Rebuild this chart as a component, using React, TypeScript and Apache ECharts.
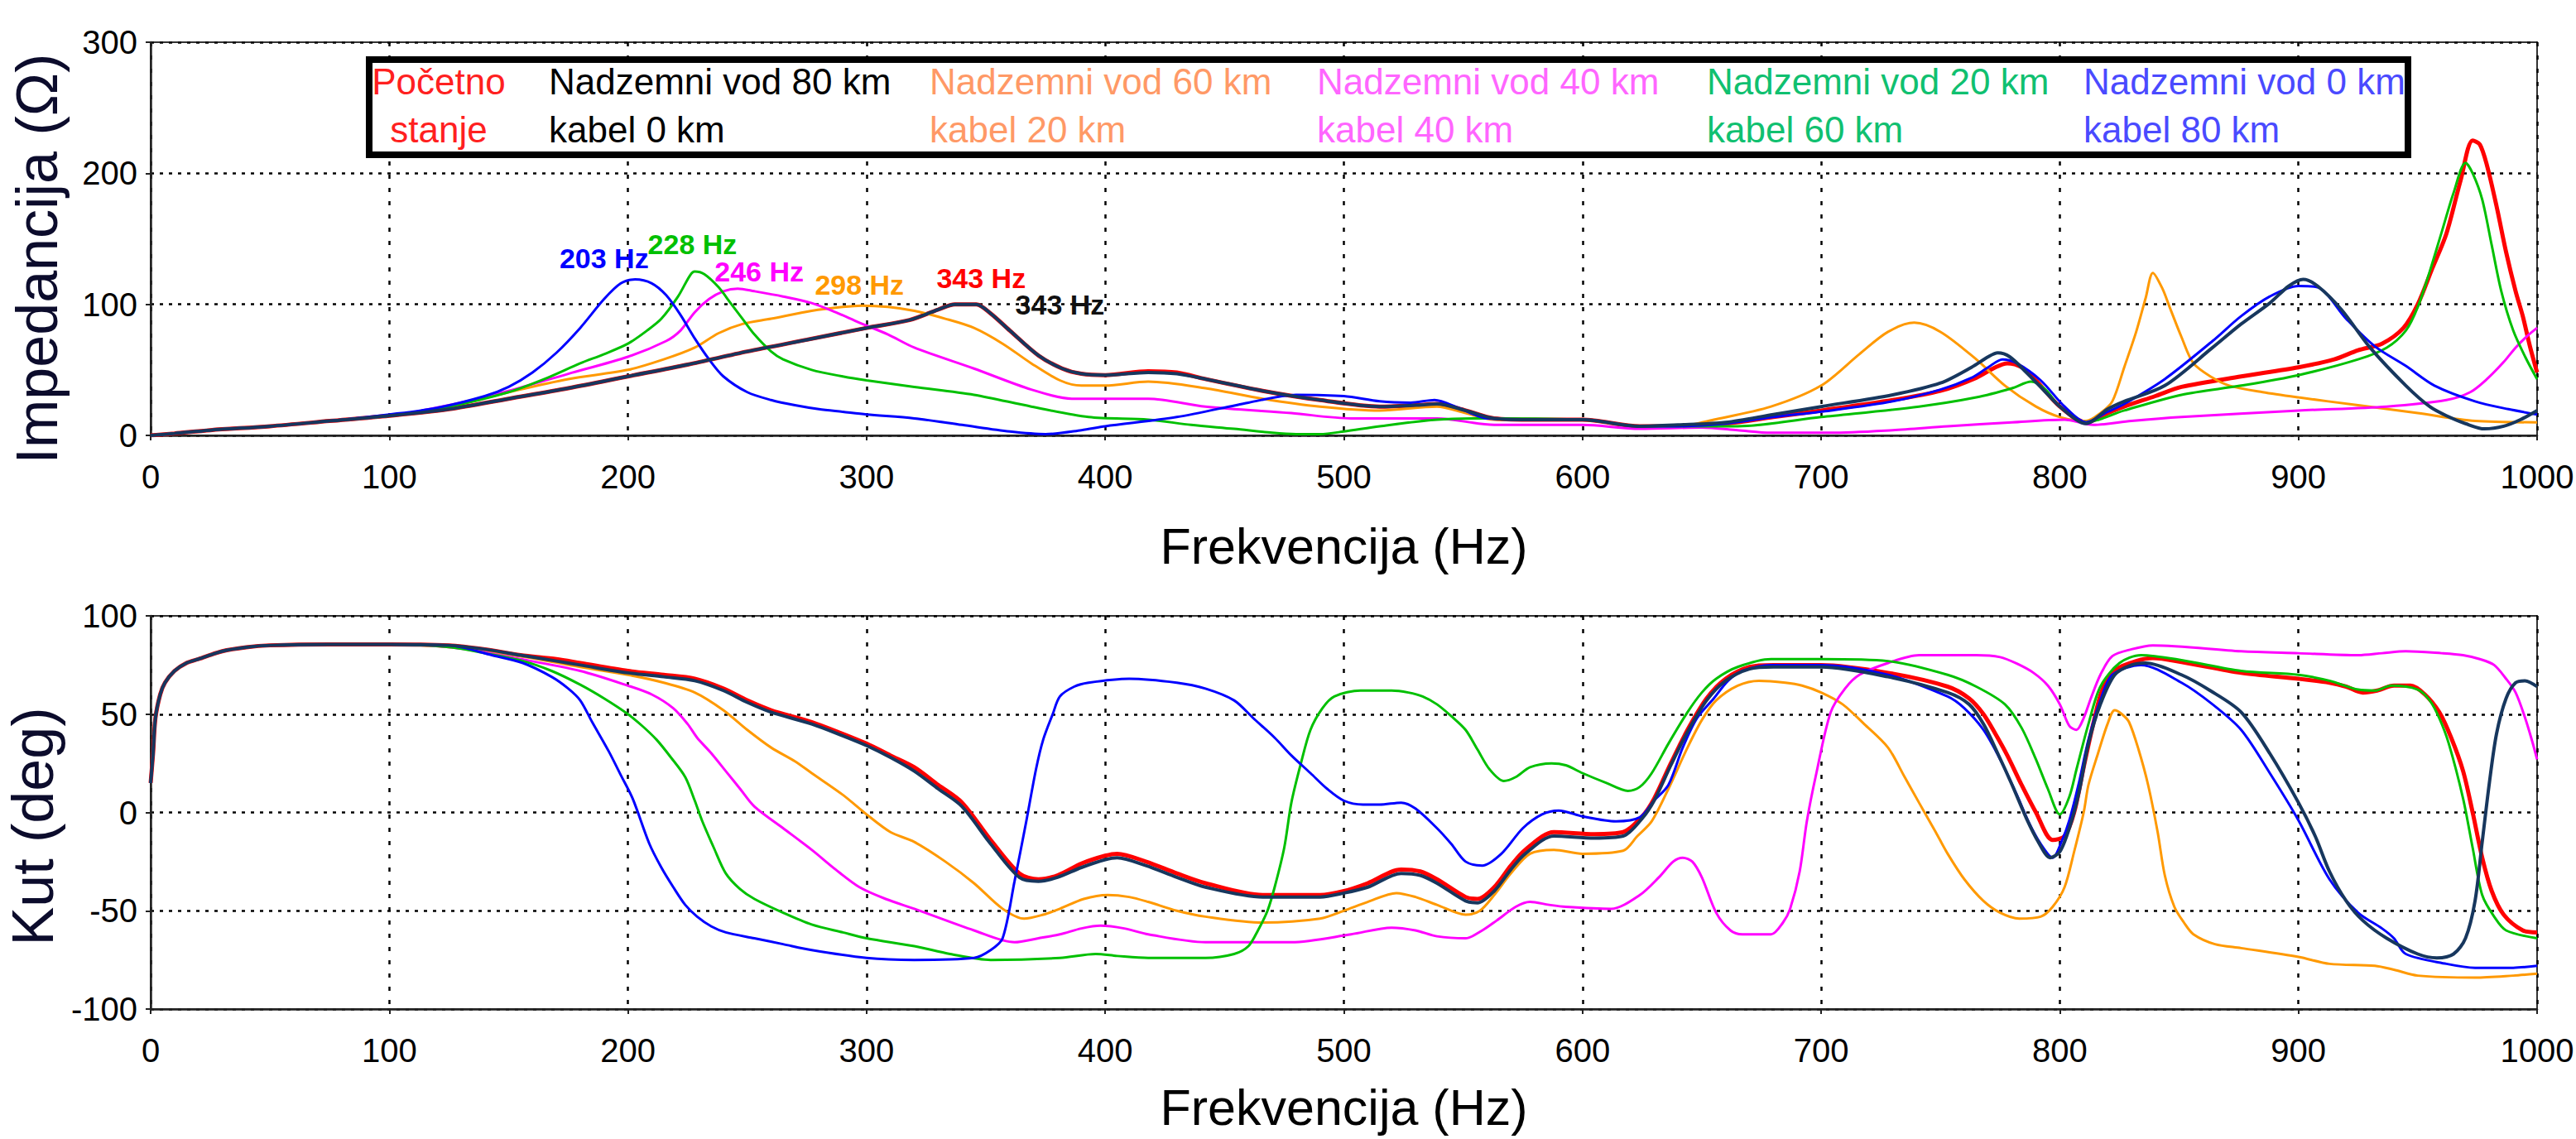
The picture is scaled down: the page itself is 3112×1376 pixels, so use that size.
import React, { useEffect, useRef } from "react";
import * as echarts from "echarts";

// ---------- DATA: impedance magnitude (Ω) vs frequency (Hz) ----------
const zRed: [number, number][] = [[0,0],[10,1.5],[25,4],[50,7],[75,11],[100,15],[125,20],[150,28],[175,36],[200,45],[225,54],[250,64],[275,73],[300,82],[318,88],[330,96],[337,100],[346,100],[352,93],[360,80],[372,61],[382,51],[390,47],[400,46],[418,49],[430,48],[442,43],[466,34],[490,27],[515,22],[530,23],[539,24],[551,19],[563,13],[580,12],[600,12],[624,7],[640,7],[660,9],[680,14],[700,19],[730,27],[750,34],[765,44],[773,52],[778,55],[784,52],[790,42],[800,22],[811,10],[820,17],[827,22],[840,30],[851,37],[876,45],[900,52],[915,58],[925,65],[935,70],[944,82],[950,100],[956,127],[962,154],[968,195],[973,225],[976,222],[979,206],[983,175],[987,140],[991,110],[994,91],[997,68],[1000,48]];
const zNavy: [number, number][] = [[0,0],[10,1.5],[25,4],[50,7],[75,11],[100,15],[125,20],[150,28],[175,36],[200,45],[225,54],[250,64],[275,73],[300,82],[318,88],[330,96],[337,100],[346,100],[352,93],[360,80],[372,61],[382,51],[390,47],[400,46],[418,48],[430,47],[442,43],[466,34],[490,27],[515,22],[530,23],[539,24],[551,19],[563,13],[580,12],[600,12],[624,7],[640,8],[660,10],[680,16],[700,22],[730,31],[750,40],[763,52],[770,60],[774,63],[779,60],[786,48],[793,35],[800,22],[811,9],[820,20],[827,26],[844,38],[864,67],[876,85],[888,101],[896,114],[902,119],[908,114],[918,96],[930,67],[945,38],[955,22],[962,15],[970,9],[978,5],[986,7],[993,12],[1000,19]];
const zOrange: [number, number][] = [[0,0],[10,1.5],[25,4],[50,7],[75,11],[100,15],[125,22],[150,33],[175,43],[200,50],[215,58],[228,67],[238,78],[248,85],[260,89],[277,95],[290,98],[298,99],[309,98],[320,95],[333,89],[345,82],[357,70],[369,55],[381,42],[390,38],[400,38],[418,41],[442,36],[466,28],[490,22],[515,19],[539,22],[551,17],[563,12],[600,12],[624,7],[640,7],[655,12],[679,22],[700,38],[716,62],[728,79],[739,86],[750,79],[765,58],[777,38],[790,22],[800,14],[811,11],[817,17],[822,26],[827,52],[832,79],[836,105],[839,124],[843,112],[846,98],[851,75],[856,55],[864,44],[871,38],[885,33],[900,29],[925,23],[950,17],[974,11],[1000,10]];
const zMagenta: [number, number][] = [[0,0],[10,1.5],[25,4],[50,7],[75,11],[100,15],[125,23],[150,34],[175,47],[200,60],[216,72],[222,80],[228,94],[234,104],[240,110],[246,112],[253,110],[265,106],[277,101],[287,94],[297,86],[309,77],[320,67],[345,51],[369,35],[386,28],[400,28],[418,28],[442,22],[478,17],[503,13],[539,13],[563,8],[600,8],[624,5],[650,6],[665,4],[679,2],[704,2],[730,4],[753,7],[780,10],[802,12],[814,8],[830,11],[851,14],[900,19],[937,22],[962,27],[972,33],[979,43],[986,56],[991,67],[996,76],[1000,82]];
const zGreen: [number, number][] = [[0,0],[10,1.5],[25,4],[50,7],[75,11],[100,15],[125,22],[150,33],[165,43],[180,55],[190,62],[200,70],[208,80],[214,89],[221,106],[226,122],[228,125],[232,123],[238,113],[243,101],[248,89],[253,77],[260,64],[265,58],[277,50],[290,45],[300,42],[320,37],[345,31],[369,22],[393,14],[418,12],[436,8],[454,5],[470,2],[480,1],[490,1],[500,3],[515,7],[539,12],[563,13],[600,12],[624,7],[665,7],[700,14],[741,22],[765,29],[780,36],[788,41],[794,35],[800,22],[811,10],[827,19],[851,31],[876,38],[900,46],[925,58],[937,67],[945,80],[950,98],[955,125],[960,155],[965,185],[970,208],[973,200],[977,180],[981,145],[985,110],[990,80],[995,60],[1000,43]];
const zBlue: [number, number][] = [[0,0],[10,1.5],[25,4],[50,7],[75,11],[100,16],[120,21],[140,30],[150,37],[160,48],[170,63],[180,82],[190,104],[197,116],[203,119],[210,116],[216,107],[222,92],[228,74],[234,58],[240,45],[250,33],[260,27],[270,23],[280,20],[290,18],[300,16],[320,13],[340,8],[360,3],[375,1],[390,4],[400,7],[430,14],[460,25],[480,31],[500,30],[515,26],[528,25],[538,27],[548,21],[560,13],[580,12],[600,12],[624,7],[640,7],[660,9],[680,14],[704,19],[730,26],[750,35],[763,44],[770,52],[776,58],[782,55],[792,42],[802,22],[811,10],[820,18],[827,24],[844,43],[864,72],[876,91],[888,106],[900,114],[908,113],[920,89],[932,68],[945,53],[957,38],[974,26],[988,20],[1000,16]];

// ---------- DATA: impedance angle (deg) vs frequency (Hz) ----------
const kRed: [number, number][] = [[0,15],[1,30],[2,48],[4,60],[6,66],[10,72],[15,76],[20,78],[30,82],[40,84],[50,85],[75,85.5],[100,85.5],[125,85],[140,83],[155,80],[170,78],[180,76],[200,72],[215,70],[228,68],[240,63],[250,57],[260,52],[277,46],[290,40],[300,35],[310,29],[320,23],[330,14],[340,5],[352,-14],[364,-31],[372,-34],[380,-32],[390,-26],[400,-22],[405,-21],[417,-25],[430,-31],[442,-36],[466,-42],[490,-42],[500,-40],[510,-36],[524,-29],[532,-30],[539,-34],[551,-43],[556,-44],[563,-38],[570,-27],[576,-19],[588,-10],[605,-11],[617,-10],[625,-2],[630,7],[637,25],[644,42],[652,58],[660,68],[670,74],[680,75],[700,75],[728,71],[753,64],[762,58],[768,50],[773,40],[778,29],[784,14],[790,0],[797,-14],[802,-12],[806,0],[810,23],[814,45],[818,63],[824,73],[832,77],[839,78.5],[851,76.5],[876,71],[900,68],[913,66],[920,64],[927,61],[933,62],[940,64.5],[947,64.5],[953,60],[959,51],[964,38],[969,21],[973,0],[977,-23],[981,-40],[986,-52],[994,-60],[1000,-61]];
const kNavy: [number, number][] = [[0,15],[1,30],[2,48],[4,60],[6,66],[10,72],[15,76],[20,78],[30,82],[40,84],[50,85],[75,85.5],[100,85.5],[125,85],[140,83],[155,80],[170,77],[180,75],[200,71],[215,69],[228,67],[240,62],[250,56],[260,51],[277,45],[290,39],[300,34],[310,28],[320,21],[330,12],[340,3],[352,-16],[364,-33],[372,-35],[380,-33],[390,-28],[400,-24],[405,-23],[417,-27],[430,-33],[442,-38],[466,-43],[490,-43],[500,-41],[510,-38],[524,-31],[532,-32],[539,-36],[551,-45],[556,-46],[563,-40],[570,-29],[576,-21],[588,-12],[605,-13],[617,-12],[625,-3],[630,6],[637,24],[644,41],[652,57],[660,67],[670,73],[680,74],[700,74],[728,69],[753,61],[762,55],[768,45],[774,30],[780,14],[786,-3],[791,-15],[796,-23],[800,-20],[804,-8],[808,10],[812,35],[817,55],[823,70],[830,75],[836,76],[851,70],[863,62],[876,51],[888,30],[900,5],[907,-12],[913,-30],[920,-45],[927,-55],[937,-64],[950,-72],[958,-74],[965,-72],[970,-64],[974,-45],[977,-15],[980,15],[983,40],[987,58],[991,66],[995,67],[1000,64]];
const kOrange: [number, number][] = [[0,15],[1,30],[2,48],[4,60],[6,66],[10,72],[15,76],[20,78],[30,82],[40,84],[50,85],[75,85.5],[100,85.5],[126,84],[155,79.5],[180,74],[200,70],[215,66],[228,61],[240,52],[250,42],[260,33],[270,26],[277,20],[290,9],[300,-1],[310,-10],[320,-15],[333,-25],[345,-36],[357,-49],[366,-54],[374,-52],[381,-49],[391,-44],[401,-42],[410,-43],[418,-45.5],[430,-50],[442,-53],[466,-56],[490,-54],[500,-50],[510,-45.5],[522,-41],[530,-43],[539,-47],[551,-52],[557,-50],[563,-42],[570,-31],[578,-21],[588,-19],[600,-21],[617,-19.5],[623,-12],[629,-4.5],[636,12],[644,33],[650,47],[656,57],[665,64.5],[674,67],[685,66],[692,64.5],[700,61],[709,55],[718,45],[728,33],[735,18],[741,5],[748,-10],[753,-21],[760,-34],[768,-45],[775,-51],[783,-54],[792,-53],[797,-48],[802,-38],[806,-20],[810,0],[812,14],[816,30],[820,45],[823,52],[826,50],[829,46],[833,32],[837,14],[841,-10],[844,-32],[848,-48],[852,-56],[856,-62],[865,-67],[876,-69],[900,-73.5],[913,-77],[932,-78],[940,-80],[950,-83],[974,-84],[990,-83],[1000,-82]];
const kMagenta: [number, number][] = [[0,15],[1,30],[2,48],[4,60],[6,66],[10,72],[15,76],[20,78],[30,82],[40,84],[50,85],[75,85.5],[100,85.5],[126,84],[155,78],[180,72],[200,64.5],[210,60],[219,53],[225,45],[229,38],[235,30],[241,21],[247,12],[253,3],[265,-8],[277,-19],[287,-29],[297,-38],[308,-44],[320,-49],[345,-60],[362,-66],[372,-64],[381,-62],[390,-59],[398,-57.6],[408,-59],[418,-62],[442,-66],[478,-66],[503,-62],[520,-58.6],[530,-60],[539,-63],[551,-64],[558,-60],[564,-55],[572,-48],[578,-45.5],[586,-47],[593,-48],[612,-49],[624,-42],[632,-33],[638,-25],[642,-23],[646,-25],[650,-33],[656,-51],[662,-60],[667,-62],[679,-62],[684,-56],[687,-49],[691,-30],[694,-4.5],[698,20],[704,51],[710,63],[716,70],[728,76],[741,80],[765,80],[775,79],[782,75.7],[789,71],[795,64.5],[800,55],[804,44],[807,42],[810,48],[813,58],[817,70],[822,79.5],[830,83],[839,85],[876,82],[900,81],[925,80],[935,81],[945,82],[960,81],[969,80],[976,78],[982,75],[987,68],[991,61],[995,48],[998,36],[1000,27]];
const kGreen: [number, number][] = [[0,15],[1,30],[2,48],[4,60],[6,66],[10,72],[15,76],[20,78],[30,82],[40,84],[50,85],[75,85.5],[100,85.5],[126,84],[140,81],[156,77],[168,72],[180,65],[190,58],[200,50],[206,44],[212,37],[218,28],[224,18],[228,6],[231,-4],[236,-18],[241,-31],[247,-39],[253,-44],[265,-51],[277,-57],[290,-61],[300,-64],[320,-68],[335,-72],[352,-75],[381,-74],[396,-72],[405,-73],[418,-74],[442,-74],[454,-72],[460,-68],[464,-60],[468,-50],[471,-38],[475,-18],[478,5],[482,25],[486,42],[491,53],[496,59],[507,62],[520,62],[527,61],[533,59],[539,55],[545,49],[551,42],[556,32],[561,22],[567,16],[572,18],[578,23],[587,25],[593,24],[600,20],[610,15],[619,11],[624,13],[629,20],[636,35],[644,51],[650,61],[656,68],[665,74],[679,78],[700,78],[728,77],[753,70],[765,64],[777,55],[784,43],[790,27],[795,12],[800,-1],[804,8],[807,22],[812,45],[817,64],[825,76],[834,80],[851,77.5],[876,72],[900,70],[913,67],[925,62.5],[932,62],[939,64.5],[950,62.5],[955,57],[959,48],[963,35],[969,7],[973,-18],[977,-42],[982,-53],[987,-60],[1000,-64]];
const kBlue: [number, number][] = [[0,15],[1,30],[2,48],[4,60],[6,66],[10,72],[15,76],[20,78],[30,82],[40,84],[50,85],[75,85.5],[100,85.5],[125,85],[143,80],[156,76],[168,69],[175,63],[180,57],[185,46],[192,31],[197,19],[202,7],[209,-16],[214,-28],[219,-38],[224,-47],[229,-53],[235,-58],[241,-61],[253,-64],[265,-67],[277,-70],[300,-74],[320,-75],[345,-74],[352,-70],[357,-64],[362,-35],[367,-4],[371,22],[374,37],[378,50],[381,59],[387,64],[393,66],[410,68],[430,66],[442,63],[454,57],[462,48],[471,38],[478,29],[486,20],[493,12],[500,6],[508,4],[515,4],[524,5],[530,2],[539,-8],[545,-16],[551,-25],[558,-27],[566,-21],[575,-8],[583,-1],[590,1],[600,-2],[614,-4.5],[624,-2.5],[630,6],[636,14],[642,33],[648,48],[655,58],[661,67],[667,72],[679,75],[700,75],[728,70],[753,59],[760,53],[768,42],[775,27],[782,9],[787,-5],[792,-16],[797,-23],[801,-14],[804,-4],[808,15],[812,37],[817,57],[822,70],[834,75],[851,66],[864,55],[876,42],[888,20],[900,-4],[913,-34],[925,-51],[935,-59],[940,-64],[945,-72],[962,-77],[974,-79],[990,-79],[1000,-78]];

// Legend texts
const legendLine1 = ["Početno", "Nadzemni vod 80 km", "Nadzemni vod 60 km", "Nadzemni vod 40 km", "Nadzemni vod 20 km", "Nadzemni vod 0 km"];
const legendLine2 = ["stanje", "kabel 0 km", "kabel 20 km", "kabel 40 km", "kabel 60 km", "kabel 80 km"];

// Resonance labels (text, anchor frequency, anchor impedance)
const peakText = ["203 Hz", "228 Hz", "246 Hz", "298 Hz", "343 Hz", "343 Hz"];
const peakHz = [190, 227, 255, 297, 348, 381];
const peakZ = [135, 146, 125, 115, 120, 100];

// Axis ticks
const freqRange = [0, 1000];
const freqStep = 100;
const zRange = [0, 300];
const zStep = 100;
const angRange = [-100, 100];
const angStep = 50;

const FONT = "'Liberation Sans', Arial, sans-serif";
const NARROW = "'Liberation Sans Narrow', 'Arial Narrow', 'Liberation Sans', Arial, sans-serif";

export default function App() {
  const ref = useRef<HTMLDivElement>(null);
  useEffect(() => {
    if (!ref.current) return;
    const chart = echarts.init(ref.current, null, { renderer: "svg" });

    const defs = [
      { name: "Početno stanje", color: "#ff0000", width: 5, z: zRed, k: kRed, peak: 4, peakColor: "#ff0000" },
      { name: "Nadzemni vod 60 km kabel 20 km", color: "#ff9900", width: 3, z: zOrange, k: kOrange, peak: 3, peakColor: "#ff9900" },
      { name: "Nadzemni vod 40 km kabel 40 km", color: "#ff00ff", width: 3, z: zMagenta, k: kMagenta, peak: 2, peakColor: "#ff00ff" },
      { name: "Nadzemni vod 20 km kabel 60 km", color: "#00c000", width: 3, z: zGreen, k: kGreen, peak: 1, peakColor: "#00c000" },
      { name: "Nadzemni vod 0 km kabel 80 km", color: "#0000ff", width: 3, z: zBlue, k: kBlue, peak: 0, peakColor: "#0000ff" },
      { name: "Nadzemni vod 80 km kabel 0 km", color: "#17375e", width: 4, z: zNavy, k: kNavy, peak: 5, peakColor: "#111111" },
    ];

    const series: any[] = [];
    defs.forEach((d) => {
      series.push({
        name: d.name,
        type: "line",
        xAxisIndex: 0,
        yAxisIndex: 0,
        data: d.z,
        showSymbol: false,
        symbol: "none",
        smooth: 0.3,
        silent: true,
        lineStyle: { color: d.color, width: d.width },
        itemStyle: { color: d.color },
        markPoint: {
          symbol: "circle",
          symbolSize: 1,
          silent: true,
          itemStyle: { color: "rgba(0,0,0,0)" },
          label: {
            show: true,
            position: "inside",
            formatter: peakText[d.peak],
            color: d.peakColor,
            fontSize: 34,
            fontWeight: "bold",
            fontFamily: NARROW,
          },
          data: [{ coord: [peakHz[d.peak], peakZ[d.peak]] }],
        },
      });
    });
    defs.forEach((d) => {
      series.push({
        name: d.name,
        type: "line",
        xAxisIndex: 1,
        yAxisIndex: 1,
        data: d.k,
        showSymbol: false,
        symbol: "none",
        smooth: 0.3,
        silent: true,
        lineStyle: { color: d.color, width: d.width },
        itemStyle: { color: d.color },
      });
    });

    const xAxisBase = (gridIndex: number, gap: number) => ({
      type: "value",
      gridIndex,
      min: freqRange[0],
      max: freqRange[1],
      interval: freqStep,
      name: "Frekvencija (Hz)",
      nameLocation: "middle",
      nameGap: gap,
      nameTextStyle: { fontSize: 61, color: "#000", fontFamily: FONT },
      axisLine: { show: true, onZero: false, lineStyle: { color: "#222", width: 2.5 } },
      axisTick: { show: true, length: 6, lineStyle: { color: "#222", width: 2 } },
      axisLabel: { fontSize: 40, color: "#000", margin: 30, fontFamily: FONT, formatter: (v: number) => String(v) },
      splitLine: { show: true, lineStyle: { color: "#000", width: 2.5, type: [5, 11] } },
    });
    const yAxisBase = (gridIndex: number, range: number[], step: number, name: string, shift: number) => ({
      type: "value",
      gridIndex,
      min: range[0],
      max: range[1],
      interval: step,
      name,
      nameLocation: "middle",
      nameRotate: 90,
      nameGap: 102,
      nameTextStyle: { fontSize: 70, color: "#0c0c2c", fontFamily: FONT, padding: [0, shift, 0, 0] },
      axisLine: { show: true, onZero: false, lineStyle: { color: "#222", width: 2.5 } },
      axisTick: { show: true, length: 6, lineStyle: { color: "#222", width: 2 } },
      axisLabel: { fontSize: 40, color: "#000", margin: 16, fontFamily: FONT, formatter: (v: number) => String(v) },
      splitLine: { show: true, lineStyle: { color: "#000", width: 2.5, type: [4, 7] } },
    });

    const colX = [530, 663, 1123, 1591, 2062, 2517];
    const legendColors = ["#ff2020", "#000000", "#ff9966", "#ff66ff", "#10c070", "#4a4aff"];
    const graphic: any[] = [
      {
        type: "rect",
        z: 10,
        shape: { x: 446, y: 72, width: 2463, height: 115 },
        style: { fill: "#fff", stroke: "#000", lineWidth: 8 },
      },
    ];
    legendLine1.forEach((t, i) => {
      const align = i === 0 ? "center" : "left";
      graphic.push({
        type: "text",
        z: 11,
        x: colX[i],
        y: 98,
        style: { text: t, fill: legendColors[i], font: `44px ${FONT}`, textAlign: align, textVerticalAlign: "middle" },
      });
      graphic.push({
        type: "text",
        z: 11,
        x: colX[i],
        y: 156,
        style: { text: legendLine2[i], fill: legendColors[i], font: `44px ${FONT}`, textAlign: align, textVerticalAlign: "middle" },
      });
    });

    chart.setOption({
      animation: false,
      backgroundColor: "#fff",
      textStyle: { fontFamily: FONT },
      grid: [
        { left: 182, right: 47, top: 51, height: 475, show: true, borderColor: "#333", borderWidth: 2, backgroundColor: "transparent", containLabel: false, outerBoundsMode: "none" },
        { left: 182, right: 47, top: 744, height: 475, show: true, borderColor: "#333", borderWidth: 2, backgroundColor: "transparent", containLabel: false, outerBoundsMode: "none" },
      ],
      xAxis: [xAxisBase(0, 103), xAxisBase(1, 88)],
      yAxis: [
        yAxisBase(0, zRange, zStep, "Impedancija (Ω)", 48),
        yAxisBase(1, angRange, angStep, "Kut (deg)", 34),
      ],
      series,
      graphic,
    } as any);

    return () => chart.dispose();
  }, []);

  return (
    <div
      ref={ref}
      style={{ position: "absolute", left: 0, top: 0, width: 3112, height: 1376, background: "#fff" }}
    />
  );
}
